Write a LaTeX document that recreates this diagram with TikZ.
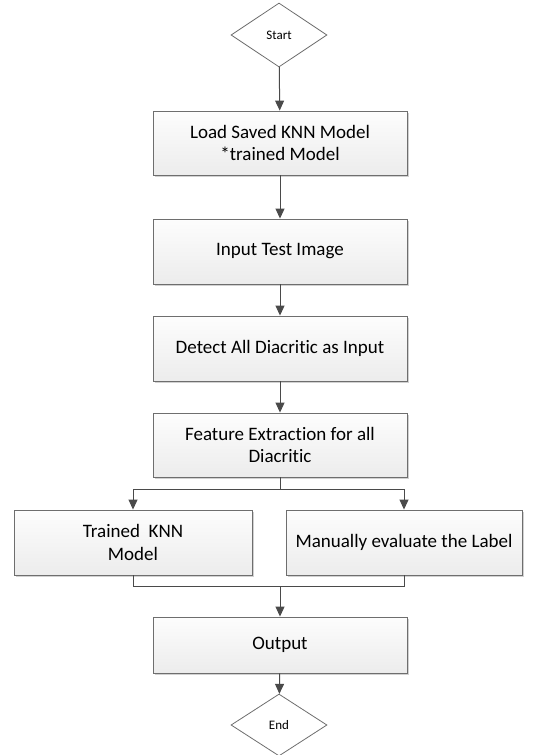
\documentclass[tikz,border=0pt]{standalone}
\usepackage{fontspec}
\setmainfont[Ligatures=NoCommon]{Carlito}
\usetikzlibrary{shapes.geometric,arrows.meta,shadows}
\definecolor{edgegray}{HTML}{4A4A4A}
\definecolor{boxline}{HTML}{6E6E6E}
\definecolor{boxtop}{HTML}{FDFDFD}
\definecolor{boxbot}{HTML}{ECECEC}
\begin{document}
\begin{tikzpicture}[x=1pt,y=-1pt,
  procbox/.style={draw=boxline, line width=0.9pt, top color=boxtop, bottom color=boxbot,
    rectangle, inner sep=0pt, align=center, font=\fontsize{19}{22.5}\selectfont,
    drop shadow={shadow xshift=1.5pt, shadow yshift=-1.5pt, fill=black!18, opacity=1}},
  term/.style={draw=boxline, line width=0.8pt, fill=white, diamond, inner sep=0pt,
    minimum width=96pt, minimum height=64pt, font=\fontsize{13}{15}\selectfont},
  flow/.style={draw=edgegray, line width=1pt, -{Triangle[width=9pt,length=10pt]}},
  plain/.style={draw=edgegray, line width=1pt}]
\useasboundingbox (0,0) rectangle (556,755);
\node[term] (start) at (279,35) {Start};
\node[procbox, minimum width=254pt, minimum height=64pt] (load) at (280,143) {Load Saved KNN Model\\*trained Model};
\node[procbox, minimum width=254pt, minimum height=65pt] (input) at (280,251.5) {Input Test Image};
\node[procbox, minimum width=254pt, minimum height=65pt] (detect) at (280,348.5) {Detect All Diacritic as Input};
\node[procbox, minimum width=254pt, minimum height=64pt] (feat) at (280,445) {Feature Extraction for all\\Diacritic};
\node[procbox, minimum width=238pt, minimum height=65pt] (knn) at (133,542.5) {Trained\ \ KNN\\Model};
\node[procbox, minimum width=236pt, minimum height=65pt] (man) at (404,542.5) {Manually evaluate the Label};
\node[procbox, minimum width=254pt, minimum height=56pt] (out) at (280,645) {Output};
\node[term, minimum height=62pt] (end) at (279,725) {End};
\coordinate (split) at (280,489);
\coordinate (merge) at (280,586);
\draw[flow] (start) -- (load);
\draw[flow] (load) -- (input);
\draw[flow] (input) -- (detect);
\draw[flow] (detect) -- (feat);
\draw[plain] (feat.south) -- (split);
\draw[flow] (split) -| (knn.north);
\draw[flow] (split) -| (man.north);
\draw[plain] (knn.south) |- (merge);
\draw[plain] (man.south) |- (merge);
\draw[flow] (merge) -- (out.north);
\draw[flow] (out) -- (end);
\end{tikzpicture}
\end{document}
